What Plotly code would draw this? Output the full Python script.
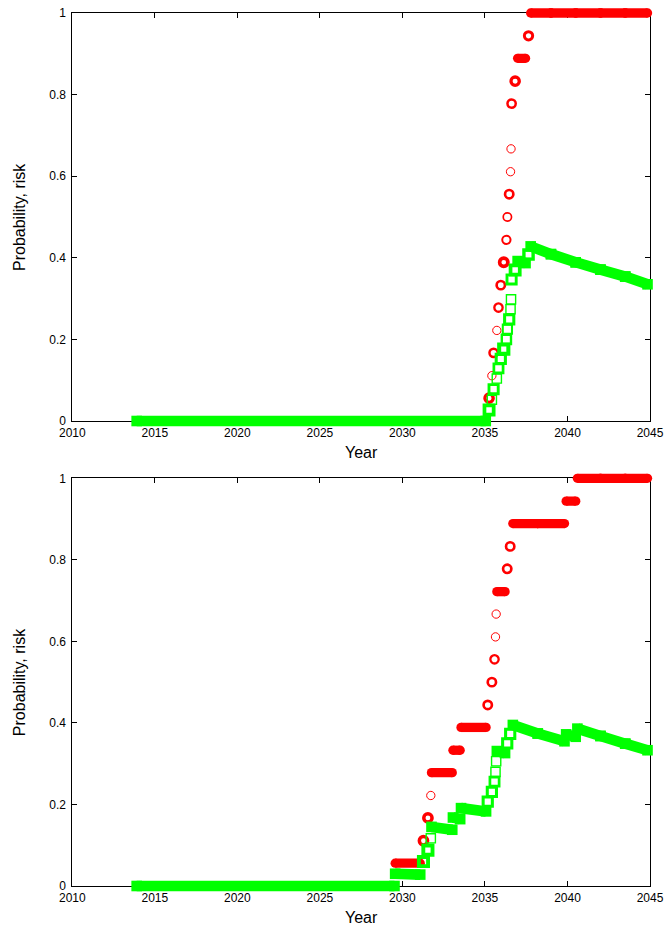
import plotly.graph_objects as go

# ---------------- data ----------------
# Each entry is a time interval during which the probability stayed constant;
# the risk value at the start and at the end of the interval is given.
top_start = [2013.9, 2035.18, 2035.42, 2035.48, 2035.72, 2035.78, 2035.91, 2036.06,
             2036.27, 2036.34, 2036.42, 2036.55, 2036.58, 2036.57, 2036.76, 2036.98,
             2037.58, 2037.77, 2039.0, 2040.5, 2042.0, 2043.5]
top_end = [2035.05, 2035.32, 2035.42, 2035.57, 2035.72, 2035.86, 2036.01, 2036.22,
           2036.33, 2036.38, 2036.52, 2036.55, 2036.58, 2036.66, 2036.90, 2037.46,
           2037.70, 2039.0, 2040.5, 2042.0, 2043.5, 2044.85]
top_prob = [0.0, 0.056, 0.111, 0.167, 0.222, 0.278, 0.333, 0.389,
            0.444, 0.500, 0.556, 0.611, 0.667, 0.778, 0.833, 0.889,
            0.944, 1.0, 1.0, 1.0, 1.0, 1.0]
top_risk_start = [0.0, 0.027, 0.052, 0.078, 0.104, 0.129, 0.152, 0.176,
                  0.200, 0.225, 0.249, 0.274, 0.298, 0.347, 0.370, 0.392,
                  0.409, 0.428, 0.409, 0.389, 0.371, 0.354]
top_risk_end = [0.0, 0.027, 0.052, 0.078, 0.104, 0.129, 0.152, 0.176,
                0.200, 0.225, 0.249, 0.274, 0.298, 0.347, 0.370, 0.387,
                0.407, 0.409, 0.389, 0.371, 0.354, 0.335]

bot_start = [2013.9, 2029.56, 2031.20, 2031.47, 2031.72, 2031.76, 2033.06, 2033.55,
             2035.12, 2035.37, 2035.54, 2035.64, 2035.68, 2035.72, 2036.30, 2036.48,
             2036.69, 2038.2, 2039.92, 2040.60, 2042.0, 2043.5]
bot_end = [2029.52, 2031.08, 2031.35, 2031.62, 2031.72, 2033.02, 2033.50, 2035.07,
           2035.22, 2035.47, 2035.62, 2035.64, 2035.68, 2036.22, 2036.40, 2036.58,
           2038.2, 2039.82, 2040.50, 2042.0, 2043.5, 2044.85]
bot_prob = [0.0, 0.056, 0.111, 0.167, 0.222, 0.278, 0.333, 0.389,
            0.444, 0.500, 0.556, 0.611, 0.667, 0.722, 0.778, 0.833,
            0.889, 0.889, 0.944, 1.0, 1.0, 1.0]
bot_risk_start = [0.0, 0.030, 0.060, 0.088, 0.117, 0.145, 0.168, 0.191,
                  0.207, 0.231, 0.256, 0.280, 0.306, 0.331, 0.350, 0.373,
                  0.395, 0.374, 0.372, 0.386, 0.368, 0.349]
bot_risk_end = [0.0, 0.028, 0.060, 0.088, 0.117, 0.138, 0.164, 0.183,
                0.207, 0.231, 0.256, 0.280, 0.306, 0.326, 0.350, 0.373,
                0.374, 0.355, 0.366, 0.368, 0.349, 0.333]

x_ticks = [2010, 2015, 2020, 2025, 2030, 2035, 2040, 2045]
y_ticks = [0, 0.2, 0.4, 0.6, 0.8, 1]
y_tick_text = ["0", "0.2", "0.4", "0.6", "0.8", "1"]

# ---------------- style ----------------
RED = "#ff0000"
GREEN = "#00ff00"
FONT = "Liberation Sans, Arial, Helvetica, sans-serif"
CIRC_SIZE, CIRC_LW = 8.3, 1.0
SQ_SIZE, SQ_LW = 9.2, 1.4

W, H = 667, 926
# frame boxes in pixels
FX0, FX1 = 72.3, 650.0
TOP_Y0, TOP_Y1 = 13.0, 421.0
BOT_Y0, BOT_Y1 = 478.3, 886.0
EX, EY = 0.02, 0.03  # extension of data subplots so wide marks are not clipped
PX_PER_YEAR = (FX1 - FX0) / 35.0
SOLID_PX = 3.5  # runs longer than this (in px) are drawn as solid bands

def xdom(ext):
    a, b = FX0 / W, FX1 / W
    d = (b - a) * ext
    return [a - d, b + d]

def ydom(py_top, py_bot, ext):
    a, b = 1 - py_bot / H, 1 - py_top / H
    d = (b - a) * ext
    return [a - d, b + d]

fig = go.Figure()

def add_series(starts, ends, vals_s, vals_e, color, symbol, size, lw, xa, ya):
    bx, by, ex, ey, sx, sy, sw = [], [], [], [], [], [], []
    for x0, x1, v0, v1 in zip(starts, ends, vals_s, vals_e):
        span = (x1 - x0) * PX_PER_YEAR
        if span >= SOLID_PX:
            bx += [x0, x1, None]
            by += [v0, v1, None]
            ex += [x0, x1]
            ey += [v0, v1]
        else:
            # a cluster of overlapping open markers: one ring with a thicker wall
            sx.append((x0 + x1) / 2)
            sy.append((v0 + v1) / 2)
            sw.append(lw + span)
    outer = size + lw
    fig.add_trace(go.Scatter(x=bx, y=by, mode="lines", xaxis=xa, yaxis=ya,
                             line=dict(color=color, width=outer), connectgaps=False,
                             hoverinfo="skip", showlegend=False, cliponaxis=False))
    fig.add_trace(go.Scatter(x=ex, y=ey, mode="markers", xaxis=xa, yaxis=ya,
                             marker=dict(symbol=symbol, size=outer, color=color,
                                         line=dict(width=0)),
                             hoverinfo="skip", showlegend=False, cliponaxis=False))
    fig.add_trace(go.Scatter(x=sx, y=sy, mode="markers", xaxis=xa, yaxis=ya,
                             marker=dict(symbol=symbol + "-open", size=size, color=color,
                                         line=dict(width=sw, color=color)),
                             hoverinfo="skip", showlegend=False, cliponaxis=False))

# empty traces so that the frame subplots exist
fig.add_trace(go.Scatter(x=[], y=[], xaxis="x", yaxis="y", showlegend=False))
fig.add_trace(go.Scatter(x=[], y=[], xaxis="x3", yaxis="y3", showlegend=False))

# top panel: data on x2/y2
add_series(top_start, top_end, top_prob, top_prob, RED, "circle", CIRC_SIZE, CIRC_LW, "x2", "y2")
add_series(top_start, top_end, top_risk_start, top_risk_end, GREEN, "square", SQ_SIZE, SQ_LW, "x2", "y2")
# bottom panel: data on x4/y4
add_series(bot_start, bot_end, bot_prob, bot_prob, RED, "circle", CIRC_SIZE, CIRC_LW, "x4", "y4")
add_series(bot_start, bot_end, bot_risk_start, bot_risk_end, GREEN, "square", SQ_SIZE, SQ_LW, "x4", "y4")

frame_x = dict(range=[2010, 2045], tickvals=x_ticks, ticks="inside", ticklen=5,
               tickwidth=1, tickcolor="black", showline=True, linecolor="black",
               linewidth=1, mirror="ticks", showgrid=False, zeroline=False,
               automargin=False, ticklabelstandoff=1,
               tickfont=dict(family=FONT, size=12, color="black"), fixedrange=True)
frame_y = dict(range=[0, 1], tickvals=y_ticks, ticktext=y_tick_text, ticks="inside",
               ticklen=5, tickwidth=1, tickcolor="black", showline=True,
               linecolor="black", linewidth=1, mirror="ticks", showgrid=False,
               zeroline=False, automargin=False, ticklabelstandoff=3,
               tickfont=dict(family=FONT, size=12, color="black"),
               fixedrange=True)
xr = [2010 - 35 * EX, 2045 + 35 * EX]
yr = [-EY, 1 + EY]
data_ax = dict(visible=False, showgrid=False, zeroline=False, fixedrange=True,
               automargin=False)

fig.update_layout(
    width=W, height=H, margin=dict(l=0, r=0, t=0, b=0, pad=0, autoexpand=False),
    paper_bgcolor="white", plot_bgcolor="rgba(0,0,0,0)",
    font=dict(family=FONT, color="black"),
    xaxis=dict(domain=xdom(0), anchor="y", **frame_x),
    yaxis=dict(domain=ydom(TOP_Y0, TOP_Y1, 0), anchor="x", **frame_y),
    xaxis3=dict(domain=xdom(0), anchor="y3", **frame_x),
    yaxis3=dict(domain=ydom(BOT_Y0, BOT_Y1, 0), anchor="x3", **frame_y),
    xaxis2=dict(domain=xdom(EX), anchor="y2", range=xr, **data_ax),
    yaxis2=dict(domain=ydom(TOP_Y0, TOP_Y1, EY), anchor="x2", range=yr, **data_ax),
    xaxis4=dict(domain=xdom(EX), anchor="y4", range=xr, **data_ax),
    yaxis4=dict(domain=ydom(BOT_Y0, BOT_Y1, EY), anchor="x4", range=yr, **data_ax),
    showlegend=False,
)

# axis titles
cx = (FX0 + FX1) / 2 / W
for py_top, py_bot in [(TOP_Y0, TOP_Y1), (BOT_Y0, BOT_Y1)]:
    fig.add_annotation(text="Year", xref="paper", yref="paper", x=cx,
                       y=1 - (py_bot + 31) / H, showarrow=False,
                       font=dict(family=FONT, size=16, color="black"),
                       xanchor="center", yanchor="middle")
    fig.add_annotation(text="Probability, risk", xref="paper", yref="paper",
                       x=19 / W, y=1 - (py_top + py_bot) / 2 / H, textangle=-90,
                       showarrow=False, font=dict(family=FONT, size=16, color="black"),
                       xanchor="center", yanchor="middle")

fig.write_html("out.html", config={"displayModeBar": False},
               post_script="document.body.style.margin='0px';")
